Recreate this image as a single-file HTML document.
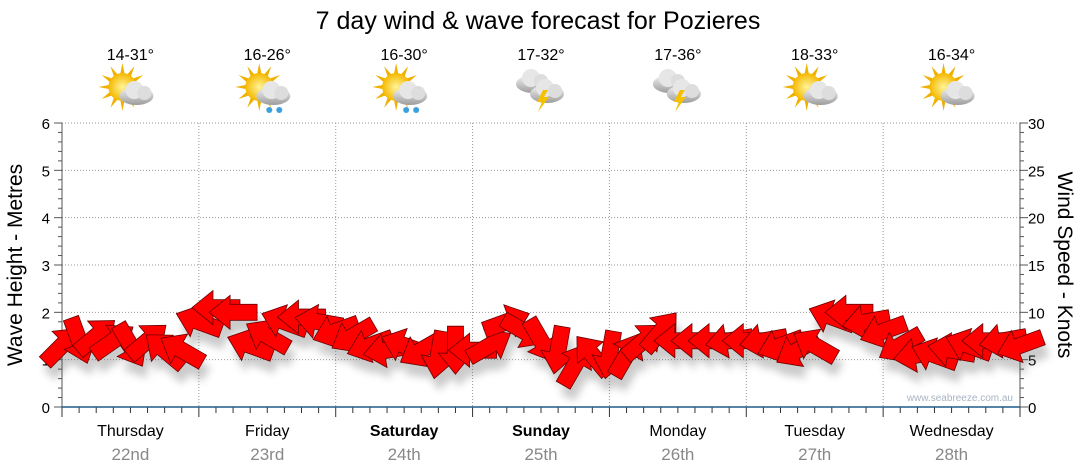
<!DOCTYPE html>
<html><head><meta charset="utf-8"><style>
body{margin:0;background:#fff;font-family:"Liberation Sans",sans-serif}
svg{display:block}
</style></head><body>
<svg id="c" width="1080" height="475" font-family="Liberation Sans, sans-serif">
<defs>
<filter id="sh" x="-50%" y="-50%" width="200%" height="200%"><feGaussianBlur stdDeviation="4"/></filter>
<radialGradient id="sun" cx="50%" cy="50%" r="50%"><stop offset="0" stop-color="#fff59a"/><stop offset="1" stop-color="#f5b800"/></radialGradient>
<linearGradient id="cl" x1="0" y1="0" x2="0" y2="1"><stop offset="0" stop-color="#f4f4f4"/><stop offset="1" stop-color="#9d9d9d"/></linearGradient>
</defs>
<text x="538" y="29" font-size="25" text-anchor="middle" fill="#000">7 day wind &amp; wave forecast for Pozieres</text>
<g id="grid"></g><g id="axes"></g><g id="hdr"></g>
<g id="shadows" filter="url(#sh)" opacity="0.3"></g><g id="arrows"></g>
<text x="1013" y="401" font-size="10" text-anchor="end" fill="#a8b4c4">www.seabreeze.com.au</text>
<text transform="translate(22,265) rotate(-90)" font-size="21" text-anchor="middle">Wave Height - Metres</text>
<text transform="translate(1058,265) rotate(90)" font-size="21" text-anchor="middle">Wind Speed - Knots</text>
</svg>
<script>
const days=["Thursday","Friday","Saturday","Sunday","Monday","Tuesday","Wednesday"];
const dates=["22nd","23rd","24th","25th","26th","27th","28th"];
const boldDays=[false,false,true,true,false,false,false];
const temps=["14-31°","16-26°","16-30°","17-32°","17-36°","18-33°","16-34°"];
const icons=["cloud","rain","rain","storm","storm","cloud","cloud"];
const waveTicks=[0,1,2,3,4,5,6];
const windTicks=[0,5,10,15,20,25,30];
const windSpeed=[6.5,7,7.5,7,6.5,7,6,6, 9,10.5,10,6.5,7.5,9,9.5,9, 8,7.5,6.5,6,6.5,6,5.5,6, 6,6.5,9,8,7,6,4.5,5.5, 5.5,5.5,7,8,7,7,7,7, 7,7,6.5,6,6.5,9.5,10,9, 8,6.5,5.5,5.5,6,6.5,7,7,6.5];
const windDir=[-45,70,-40,-35,60,-40,-140,-150, -160,180,180,-160,-150,-160,180,-170, 160,150,160,170,-160,150,100,90, 180,-30,-20,30,60,100,-60,-130, 100,-60,-40,-50,180,180,180,170, 180,170,160,150,-150,-160,180,170, 160,150,170,-160,-170,-160,180,170,160];
const X0=62,X1=1020,Y0=407,Y1=123,ns="http://www.w3.org/2000/svg";
const xs=h=>X0+h*(X1-X0)/168, yw=m=>Y0-m*(Y0-Y1)/6, yk=k=>Y0-k*(Y0-Y1)/30;
function mk(t,a,p){const e=document.createElementNS(ns,t);for(const k in a)e.setAttribute(k,a[k]);p.appendChild(e);return e;}
const grid=document.getElementById('grid'),axes=document.getElementById('axes'),hdr=document.getElementById('hdr');
waveTicks.forEach(v=>{if(v>0){const l=mk('line',{x1:X0,x2:X1,y1:yw(v),y2:yw(v),stroke:'#999','stroke-dasharray':'1,2'},grid);

}
const t=mk('text',{x:50,y:yw(v)+6,'font-size':15,'text-anchor':'end'},axes);t.textContent=v;

});
windTicks.forEach(v=>{const t=mk('text',{x:1028,y:yk(v)+6,'font-size':15},axes);t.textContent=v;

});
for(let i=0;i<=30;i++){const y=Y0-i*(Y0-Y1)/30,w=i%5==0?8:4;mk('line',{x1:X0-w,x2:X0,y1:y,y2:y,stroke:'#555'},axes);mk('line',{x1:X1,x2:X1+w,y1:y,y2:y,stroke:'#555'},axes);}
mk('line',{x1:X0,x2:X0,y1:Y1,y2:Y0,stroke:'#555'},axes);mk('line',{x1:X1,x2:X1,y1:Y1,y2:Y0,stroke:'#555'},axes);
for(let h=0;h<=168;h+=3){const x=xs(h);mk('line',{x1:x,x2:x,y1:Y0,y2:Y0+(h%24==0?10:6),stroke:'#333'},axes);
if(h%24==0&&h>0&&h<168)mk('line',{x1:x,x2:x,y1:Y1,y2:Y0,stroke:'#999','stroke-dasharray':'1,2'},grid);}
const bl=mk('line',{x1:X0,x2:X1,y1:Y0,y2:Y0,stroke:'#1f5c8c','stroke-width':1.5},axes);


function icon(g,type,cx,cy){
 if(type!='storm'){for(let i=0;i<12;i++){const a=i*Math.PI/6;mk('polygon',{points:`${cx-8+Math.cos(a)*24},${cy-5+Math.sin(a)*24} ${cx-8+Math.cos(a+0.2)*12},${cy-5+Math.sin(a+0.2)*12} ${cx-8+Math.cos(a-0.2)*12},${cy-5+Math.sin(a-0.2)*12}`,fill:'#f0b000'},g);}
 mk('circle',{cx:cx-8,cy:cy-5,r:14,fill:'url(#sun)'},g);}
 const cl=(dx,dy)=>{mk('ellipse',{cx:cx+6+dx,cy:cy+4+dy,rx:17,ry:9,fill:'url(#cl)'},g);mk('circle',{cx:cx+4+dx,cy:cy-2+dy,r:9,fill:'#e6e6e6'},g);mk('circle',{cx:cx+14+dx,cy:cy+1+dy,r:7,fill:'#ddd'},g);};
 if(type=='storm'){cl(-14,-12);cl(0,-2);mk('polygon',{points:`${cx+2},${cy-2} ${cx-4},${cy+10} ${cx+1},${cy+10} ${cx-3},${cy+20} ${cx+8},${cy+5} ${cx+3},${cy+5} ${cx+7},${cy-2}`,fill:'#f5c000'},g);}
 else cl(0,0);
 if(type=='rain'){mk('circle',{cx:cx+2,cy:cy+18,r:3,fill:'#3aa0e0'},g);mk('circle',{cx:cx+12,cy:cy+18,r:3,fill:'#3aa0e0'},g);}
}
days.forEach((d,i)=>{const cx=xs(i*24+12);
 const tt=mk('text',{x:cx,y:60,'font-size':16,'text-anchor':'middle'},hdr);tt.textContent=temps[i];
 
 
 const g=mk('g',{},hdr);
 
 
 icon(g,icons[i],cx,92);
 const dl=mk('text',{x:cx,y:436,'font-size':16,'text-anchor':'middle','font-weight':boldDays[i]?'bold':'normal'},axes);dl.textContent=d;
 
 
 const dt=mk('text',{x:cx,y:460,'font-size':17,'text-anchor':'middle',fill:'#888'},axes);dt.textContent=dates[i];
 
 
});
const ar='M-24,-8 L3,-8 L3,-17 L24,0 L3,17 L3,8 L-24,8 Z';
const sg=document.getElementById('shadows'),ag=document.getElementById('arrows');
windSpeed.forEach((s,i)=>{const x=xs(i*3),y=yk(s),a=windDir[i];
 mk('path',{d:ar,transform:`translate(${x+4},${y+12}) rotate(${a})`,fill:'#555'},sg);
});
windSpeed.forEach((s,i)=>{const x=xs(i*3),y=yk(s),a=windDir[i];
 const p=mk('path',{d:ar,transform:`translate(${x},${y}) rotate(${a})`,fill:'#f00',stroke:'#6a0000','stroke-width':0.8},ag);
 
 
});
</script>
</body></html>
